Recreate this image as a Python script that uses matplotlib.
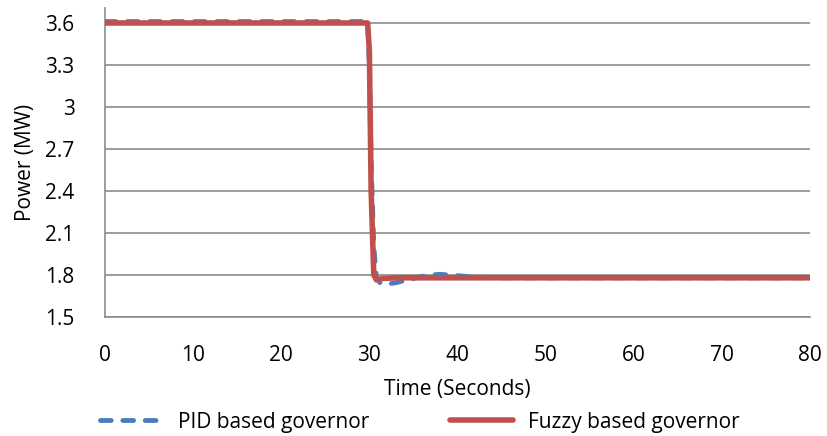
import matplotlib
matplotlib.use("Agg")
import matplotlib.pyplot as plt
import numpy as np

plt.rcParams['font.family'] = ['Open Sans', 'DejaVu Sans']

# Fuzzy based governor (solid red)
fuzzy_t = [0, 29.8, 30.0, 30.2, 30.5, 30.8, 31.5, 33, 40, 50, 60, 70, 80]
fuzzy_p = [3.60, 3.60, 3.40, 2.40, 1.80, 1.765, 1.775, 1.78, 1.78, 1.78, 1.78, 1.78, 1.78]

# PID based governor (dashed blue)
pid_t = [0, 29.8, 30.0, 30.2, 30.5, 30.8, 31.2, 32, 33, 34, 35, 36, 37, 38, 39, 40, 42, 45, 50, 60, 70, 80]
pid_p = [3.61, 3.61, 3.30, 2.60, 2.00, 1.78, 1.745, 1.735, 1.745, 1.76, 1.775, 1.79, 1.80, 1.805, 1.80, 1.795, 1.785, 1.78, 1.78, 1.78, 1.78, 1.78]

x_ticks = [0, 10, 20, 30, 40, 50, 60, 70, 80]
y_ticks = [1.5, 1.8, 2.1, 2.4, 2.7, 3.0, 3.3, 3.6]
y_labels = ["1.5", "1.8", "2.1", "2.4", "2.7", "3", "3.3", "3.6"]

fig = plt.figure(figsize=(8.28, 4.36), dpi=100)
# x from px 105 to 810, y from px 8 to 317
ax = fig.add_axes([105/828, 1-317/436, (810-105)/828, (317-8)/436])

ax.plot(pid_t, pid_p, color='#4a7ebb', lw=3.5, ls=(0, (2.2, 2.4)), dash_capstyle='round',
        label='PID based governor', zorder=3)
ax.plot(fuzzy_t, fuzzy_p, color='#c0504d', lw=4, solid_capstyle='round',
        label='Fuzzy based governor', zorder=4)

ax.set_xlim(0, 80)
ax.set_ylim(1.5, 3.707)
ax.set_xticks(x_ticks)
ax.set_yticks(y_ticks)
ax.set_yticklabels(y_labels)
ax.yaxis.grid(True, color='#8c8c8c', lw=1.2)
ax.set_axisbelow(True)
for s in ['top', 'right']:
    ax.spines[s].set_visible(False)
for s in ['left', 'bottom']:
    ax.spines[s].set_color('#8c8c8c')
    ax.spines[s].set_linewidth(1.2)
ax.tick_params(axis='y', length=0, labelsize=15, pad=22)
ax.tick_params(axis='x', length=0, labelsize=15, pad=20)
ax.set_xlabel('Time (Seconds)', fontsize=15)
ax.xaxis.set_label_coords(0.5, -(379-317)/309, transform=ax.transAxes)
ax.set_ylabel('Power (MW)', fontsize=15)
ax.yaxis.set_label_coords(-(105-36)/705, 0.5, transform=ax.transAxes)

fig.legend(loc='center', bbox_to_anchor=(420/828, 1-422/436), ncol=2, frameon=False,
           fontsize=15, handlelength=3.0, columnspacing=3.9, handletextpad=0.72)

fig.savefig('out.png', dpi=100)
